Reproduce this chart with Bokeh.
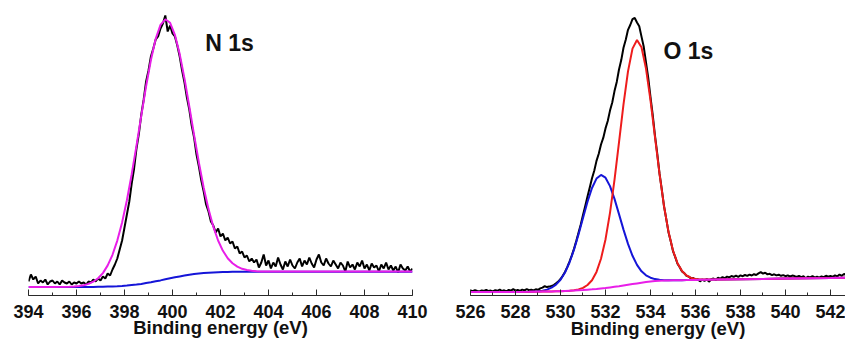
import numpy as np
from bokeh.plotting import figure
from bokeh.layouts import row
from bokeh.models import SingleIntervalTicker, Range1d
from bokeh.embed import file_html
from bokeh.resources import INLINE
from bokeh.core.properties import value

FONT = "Liberation Sans"

# ---------------- N 1s data (binding energy in eV, intensity in a.u.) ----------------
n1s_energy = np.round(np.linspace(394.0, 410.0, 161), 2)
n1s_counts = [
    14, 21, 16, 19, 12, 15, 13, 16, 11, 14,
    15, 12, 14, 11, 15, 13, 12, 14, 11, 13,
    12, 14, 12, 13, 11, 14, 13, 16, 14, 17,
    15, 19, 17, 22, 20, 26, 31, 37, 46, 55,
    68, 81, 94, 112, 127, 147, 162, 181, 196, 214,
    225, 239, 247, 256, 259, 267, 272, 280, 264, 270,
    262, 259, 250, 239, 225, 213, 198, 186, 170, 158,
    141, 129, 115, 104, 91, 84, 74, 70, 63, 67,
    59, 62, 55, 58, 52, 54, 47, 49, 42, 44,
    38, 40, 34, 37, 33, 36, 28, 33, 41, 30,
    35, 27, 33, 29, 38, 31, 26, 34, 29, 36,
    30, 27, 33, 37, 29, 35, 31, 38, 32, 28,
    36, 41, 33, 30, 37, 32, 29, 35, 31, 27,
    33, 30, 24, 34, 28, 31, 26, 33, 29, 35,
    27, 31, 25, 32, 28, 30, 24, 31, 27, 33,
    26, 30, 25, 29, 23, 31, 27, 25, 29, 24,
    27,
]
n1s_fit_energy = [
    394.0, 395.0,
    395.7, 395.9, 396.1, 396.3, 396.5, 396.7, 396.9, 397.1, 397.3, 397.5,
    397.7, 397.9, 398.1, 398.3, 398.5, 398.7, 398.9, 399.1, 399.3, 399.5,
    399.7,
    399.9, 400.1, 400.3, 400.5, 400.7, 400.9, 401.1, 401.3, 401.5, 401.7,
    401.9, 402.1, 402.3, 402.5, 402.7, 402.9, 403.1, 403.3, 403.5, 403.7,
    404.5, 410.0,
]
n1s_fit_envelope = [
    8.5, 8.5,
    8.8, 9.0, 9.4, 10.2, 11.6, 13.8, 17.3, 22.4, 30.1, 40.7,
    54.9, 73.1, 95.3, 121.3, 149.9, 179.9, 209.3, 235.5, 256.7, 270.6,
    276.2,
    272.7, 260.7, 241.4, 216.8, 189.0, 160.4, 132.8, 107.8, 86.4, 68.8,
    55.0, 44.7, 37.3, 32.3, 28.9, 26.7, 25.5, 24.7, 24.3, 24.1,
    24.0, 24.0,
]
n1s_fit_background = [
    8.5, 8.5,
    8.5, 8.5, 8.5, 8.5, 8.6, 8.6, 8.7, 8.7, 8.9, 9.0,
    9.2, 9.5, 9.9, 10.4, 10.9, 11.6, 12.4, 13.2, 14.2, 15.1,
    16.2,
    17.2, 18.2, 19.1, 19.9, 20.7, 21.4, 21.9, 22.4, 22.8, 23.1,
    23.3, 23.5, 23.6, 23.7, 23.7, 23.7, 23.8, 23.8, 23.8, 23.8,
    23.8, 23.8,
]

# ---------------- O 1s data ----------------
o1s_energy = np.round(np.linspace(526.0, 542.8, 169), 2)
o1s_counts = [
    3.5, 2.8, 3.9, 3.1, 2.5, 3.6, 3.0, 4.2, 2.9, 3.4,
    2.6, 3.8, 3.2, 4.5, 3.0, 3.7, 2.7, 4.1, 3.3, 4.8,
    3.4, 4.0, 3.1, 4.4, 3.6, 4.9, 3.8, 4.3, 3.6, 4.7,
    4.2, 5.6, 6.4, 7.8, 6.9, 7.4, 8.1, 8.9, 10.6, 12.4,
    15.0, 18.2, 22.1, 26.9, 32.5, 38.4, 45.3, 52.9, 61.2, 69.6,
    78.9, 88.0, 97.4, 106.6, 115.8, 123.2, 133.1, 140.2, 149.5, 156.1,
    165.6, 173.0, 183.4, 191.5, 202.9, 212.1, 224.5, 233.9, 246.2, 254.3,
    264.2, 269.0, 274.8, 276.0, 271.5, 267.8, 257.4, 247.2, 231.5, 216.2,
    196.8, 178.9, 158.1, 140.3, 120.6, 104.8, 87.9, 75.2, 61.8, 52.7,
    42.9, 36.9, 30.3, 26.8, 22.5, 20.9, 18.1, 17.4, 15.6, 15.9,
    14.2, 14.8, 12.6, 14.5, 13.1, 15.0, 12.3, 14.7, 15.5, 14.1,
    16.2, 15.3, 16.9, 15.8, 17.4, 16.6, 18.0, 17.1, 18.3, 17.2,
    18.6, 17.8, 19.0, 18.1, 19.4, 18.5, 19.8, 19.0, 20.6, 21.9,
    20.4, 21.3, 19.6, 20.2, 18.9, 19.7, 18.6, 19.3, 18.2, 18.9,
    17.8, 18.6, 17.5, 18.4, 17.9, 17.0, 18.1, 16.9, 17.7, 15.8,
    17.4, 16.6, 17.9, 16.4, 17.2, 16.3, 17.5, 16.8, 18.2, 17.3,
    18.0, 17.1, 18.6, 17.6, 19.5, 18.2, 20.1, 18.7, 18.9,
]
o1s_fit_energy = [
    526.0, 527.0, 528.0,
    528.6, 528.8, 529.0, 529.2, 529.4, 529.6, 529.8, 530.0, 530.2, 530.4,
    530.6, 530.8, 531.0, 531.2, 531.4, 531.6, 531.8, 532.0, 532.2, 532.4,
    532.6, 532.8, 533.0, 533.2, 533.4, 533.6, 533.8, 534.0, 534.2, 534.4,
    534.6, 534.8, 535.0, 535.2, 535.4, 535.6, 535.8, 536.0, 536.2, 536.4,
    537.0, 538.0, 539.0, 540.0, 541.0, 542.0, 542.8,
]
o1s_fit_background = [
    2.0, 2.05, 2.1,
    2.2, 2.25, 2.3, 2.4, 2.5, 2.6, 2.7, 2.8, 3.0, 3.2,
    3.4, 3.7, 4.0, 4.35, 4.7, 5.1, 5.6, 6.0, 6.6, 7.2,
    7.8, 8.5, 9.2, 9.9, 10.6, 11.3, 12.0, 12.6, 13.0, 13.3,
    13.45, 13.6, 13.7, 13.8, 13.85, 13.9, 14.0, 14.1, 14.2, 14.25,
    14.45, 14.8, 15.1, 15.4, 15.75, 16.1, 16.4,
]
o1s_fit_peak_low = [
    2.0, 2.05, 2.1,
    2.3, 2.5, 2.7, 3.3, 4.4, 6.3, 9.4, 14.2, 21.5, 31.5,
    44.3, 59.6, 76.1, 92.3, 106.0, 115.4, 119.1, 116.3, 107.9, 95.1,
    79.9, 64.4, 50.1, 38.2, 29.1, 22.7, 18.7, 16.3, 14.9, 14.2,
    13.85, 13.7, 13.75, 13.8, 13.85, 13.9, 14.0, 14.1, 14.2, 14.25,
    14.45, 14.8, 15.1, 15.4, 15.75, 16.1, 16.4,
]
o1s_fit_peak_high = [
    2.0, 2.05, 2.1,
    2.2, 2.25, 2.3, 2.4, 2.5, 2.6, 2.7, 2.8, 3.0, 3.35,
    3.8, 4.6, 6.1, 9.0, 13.8, 22.1, 35.3, 54.6, 81.2, 114.2,
    151.6, 189.6, 222.6, 245.4, 254.0, 246.8, 225.4, 193.7, 156.8, 120.3,
    88.0, 62.2, 43.4, 30.8, 22.95, 18.5, 16.1, 15.0, 14.6, 14.4,
    14.45, 14.8, 15.1, 15.4, 15.75, 16.1, 16.4,
]

tick_interval = 2
axis_title = "Binding energy (eV)"

BLACK = "#000000"
MAGENTA = "#e81ee8"
BLUE = "#1515d8"
RED = "#ee1c1c"
AXIS = "#2a2a2a"


def style(p, title_standoff):
    p.xgrid.visible = False
    p.ygrid.visible = False
    p.outline_line_color = None
    p.background_fill_color = "white"
    p.border_fill_color = "white"
    ax = p.xaxis[0]
    ax.ticker = SingleIntervalTicker(interval=tick_interval, num_minor_ticks=2)
    ax.major_tick_in = 6
    ax.major_tick_out = 0
    ax.minor_tick_in = 3
    ax.minor_tick_out = 0
    ax.axis_line_color = AXIS
    ax.major_tick_line_color = AXIS
    ax.minor_tick_line_color = AXIS
    ax.axis_line_width = 1
    ax.major_label_text_font = FONT
    ax.major_label_text_font_style = "bold"
    ax.major_label_text_font_size = "18px"
    ax.major_label_text_color = "#111111"
    ax.major_label_standoff = 9
    ax.axis_label = axis_title
    ax.axis_label_text_font = FONT
    ax.axis_label_text_font_style = "bold"
    ax.axis_label_text_font_size = "18.5px"
    ax.axis_label_text_color = "#111111"
    ax.axis_label_standoff = title_standoff


# ---------------- left panel ----------------
p1 = figure(width=432, height=343, x_range=Range1d(394, 410), y_range=Range1d(0, 295),
            title=None, y_axis_location=None, toolbar_location=None, output_backend="svg",
            min_border_left=28, min_border_right=20, min_border_top=0, min_border_bottom=48)
style(p1, -4)
p1.line(n1s_energy, n1s_counts, line_color=BLACK, line_width=2)
p1.line(n1s_fit_energy, n1s_fit_background, line_color=BLUE, line_width=2)
p1.line(n1s_fit_energy, n1s_fit_envelope, line_color=MAGENTA, line_width=2)
p1.text(x=[401.36], y=[253.0], text=["N 1s"], text_font=value(FONT), text_font_style="bold",
        text_font_size="23px", text_baseline="alphabetic", text_align="left", text_color="#111111")

# ---------------- right panel ----------------
p2 = figure(width=413, height=343, x_range=Range1d(526, 542.667), y_range=Range1d(-1.5, 293.5),
            title=None, y_axis_location=None, toolbar_location=None, output_backend="svg",
            min_border_left=38, min_border_right=0, min_border_top=0, min_border_bottom=48)
style(p2, -3)
p2.line(o1s_energy, o1s_counts, line_color=BLACK, line_width=2)
p2.line(o1s_fit_energy, o1s_fit_peak_low, line_color=BLUE, line_width=2)
p2.line(o1s_fit_energy, o1s_fit_peak_high, line_color=RED, line_width=2)
p2.line(o1s_fit_energy, o1s_fit_background, line_color=MAGENTA, line_width=2)
p2.text(x=[534.58], y=[243.0], text=["O 1s"], text_font=value(FONT), text_font_style="bold",
        text_font_size="23px", text_baseline="alphabetic", text_align="left", text_color="#111111")

layout = row(p1, p2)
open("out.html", "w").write(file_html(layout, INLINE))
